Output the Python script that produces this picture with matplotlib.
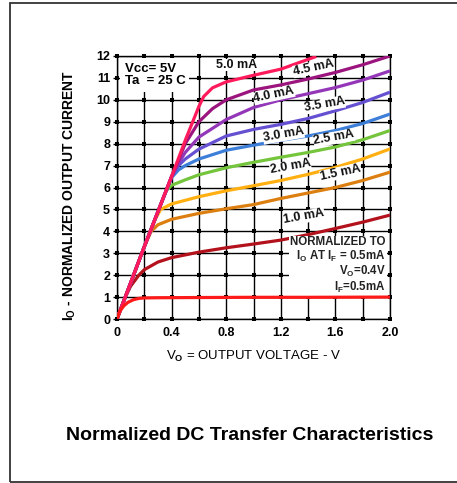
import matplotlib
matplotlib.use('Agg')
import matplotlib.pyplot as plt
import numpy as np
from matplotlib.patches import Rectangle

plt.rcParams['font.family'] = 'Liberation Sans'
plt.rcParams['font.weight'] = 'bold'
plt.rcParams['mathtext.fontset'] = 'custom'
plt.rcParams['mathtext.rm'] = 'Liberation Sans:bold'
plt.rcParams['mathtext.it'] = 'Liberation Sans:bold'
plt.rcParams['mathtext.default'] = 'rm'

# forward current curves: output voltage (V) -> normalized output current
if_labels = ['0.5 mA', '1.0 mA', '1.5 mA', '2.0 mA', '2.5 mA',
             '3.0 mA', '3.5 mA', '4.0 mA', '4.5 mA', '5.0 mA']
curve_colors = ['#ff1a1a', '#b3121c', '#dc7f10', '#ffb010', '#74c43c',
                '#3d7fd8', '#6650d2', '#9436b8', '#9c157e', '#ff1a5c']

x05 = [0, 0.02, 0.05, 0.08, 0.12, 0.16, 0.2, 0.3, 0.6, 1.0, 1.4, 2.0]
y05 = [0, 0.35, 0.6, 0.76, 0.88, 0.94, 0.96, 0.97, 0.98, 0.99, 0.99, 1.0]
x10 = [0, 0.05, 0.1, 0.16, 0.2, 0.3, 0.4, 0.6, 0.8, 1.0, 1.2, 1.4, 1.6, 1.8, 2.0]
y10 = [0, 0.85, 1.5, 2.0, 2.25, 2.6, 2.8, 3.05, 3.25, 3.42, 3.6, 3.85, 4.13, 4.42, 4.74]
x15 = [0, 0.1, 0.2, 0.25, 0.3, 0.4, 0.6, 0.8, 1.0, 1.2, 1.4, 1.6, 1.8, 2.0]
y15 = [0, 1.65, 3.3, 4.0, 4.3, 4.55, 4.82, 5.03, 5.22, 5.5, 5.75, 6.0, 6.32, 6.7]
x20 = [0, 0.1, 0.2, 0.28, 0.32, 0.4, 0.6, 0.8, 1.0, 1.2, 1.4, 1.6, 1.8, 2.0]
y20 = [0, 1.65, 3.3, 4.55, 5.0, 5.25, 5.58, 5.85, 6.08, 6.32, 6.6, 6.92, 7.3, 7.76]
x25 = [0, 0.1, 0.2, 0.3, 0.36, 0.4, 0.5, 0.6, 0.8, 1.0, 1.2, 1.4, 1.6, 1.8, 2.0]
y25 = [0, 1.65, 3.3, 4.9, 5.85, 6.1, 6.35, 6.58, 6.9, 7.15, 7.38, 7.6, 7.85, 8.18, 8.6]
x30 = [0, 0.1, 0.2, 0.3, 0.4, 0.45, 0.5, 0.6, 0.8, 1.0, 1.2, 1.4, 1.6, 1.8, 2.0]
y30 = [0, 1.65, 3.3, 4.9, 6.45, 6.8, 7.0, 7.3, 7.7, 7.93, 8.15, 8.35, 8.6, 8.92, 9.35]
x35 = [0, 0.1, 0.2, 0.3, 0.4, 0.45, 0.5, 0.6, 0.8, 1.0, 1.2, 1.4, 1.6, 1.8, 2.0]
y35 = [0, 1.65, 3.3, 4.9, 6.5, 7.0, 7.3, 7.75, 8.35, 8.65, 8.88, 9.15, 9.5, 9.88, 10.35]
x40 = [0, 0.1, 0.2, 0.3, 0.4, 0.45, 0.5, 0.6, 0.8, 1.0, 1.2, 1.4, 1.6, 1.8, 2.0]
y40 = [0, 1.65, 3.3, 4.9, 6.5, 7.1, 7.6, 8.3, 9.1, 9.65, 10.0, 10.28, 10.56, 10.9, 11.32]
x45 = [0, 0.1, 0.2, 0.3, 0.4, 0.45, 0.5, 0.6, 0.7, 0.8, 1.0, 1.2, 1.4, 1.6, 1.8, 2.0]
y45 = [0, 1.65, 3.3, 4.9, 6.5, 7.25, 8.0, 9.0, 9.6, 10.0, 10.45, 10.68, 10.95, 11.25, 11.6, 12.0]
x50 = [0, 0.1, 0.2, 0.3, 0.4, 0.5, 0.6, 0.635, 0.7, 0.8, 1.0, 1.2, 1.46]
y50 = [0, 1.65, 3.3, 4.9, 6.5, 8.15, 9.7, 10.15, 10.55, 10.82, 11.12, 11.4, 11.98]

curves_x = [x05, x10, x15, x20, x25, x30, x35, x40, x45, x50]
curves_y = [y05, y10, y15, y20, y25, y30, y35, y40, y45, y50]

# curve labels: (text, x, y, angle)
label_pos = [('1.0 mA', 1.37, 4.66, 10), ('1.5 mA', 1.64, 6.67, 12),
             ('2.0 mA', 1.27, 6.94, 10), ('2.5 mA', 1.59, 8.26, 10),
             ('3.0 mA', 1.22, 8.4, 10), ('3.5 mA', 1.52, 9.77, 10),
             ('4.0 mA', 1.15, 10.23, 12), ('4.5 mA', 1.44, 11.46, 12),
             ('5.0 mA', 0.875, 11.6, 0)]

fig = plt.figure(figsize=(4.57, 4.83), dpi=100)
fig.patches.append(Rectangle((10/457, 1/483), 1.0, 479/483, transform=fig.transFigure,
                             fill=False, edgecolor='#333333', linewidth=1.3))

ax = fig.add_axes([117/457, 1-319/483, 273/457, 263/483])
ax.set_xlim(0, 2.0)
ax.set_ylim(0, 12)

# grid
gx = np.arange(0, 2.01, 0.2)
gy = np.arange(0, 13, 1)
for v in gx:
    ax.axvline(v, color='black', lw=1.0, zorder=1)
for v in gy:
    ax.axhline(v, color='black', lw=1.0, zorder=1)
GX, GY = np.meshgrid(gx, gy)
ax.scatter(GX.ravel(), GY.ravel(), marker='s', s=6, color='black', zorder=2,
           clip_on=False, linewidths=0)

for i, (cx, cy, c) in enumerate(zip(curves_x, curves_y, curve_colors)):
    ax.plot(cx, cy, color=c, lw=2.3, zorder=7 if i == 0 else 4, solid_capstyle='butt')

for txt, lx, ly, ang in label_pos:
    ax.text(lx, ly, txt, fontsize=9, rotation=ang, ha='center', va='center',
            color='#111111', zorder=6,
            bbox=dict(facecolor='white', edgecolor='none', pad=0.2))

ax.text(0.055, 11.7, 'Vcc= 5V\nTa  = 25 C', fontsize=9.5, ha='left', va='top',
        linespacing=1.1, zorder=6,
        bbox=dict(facecolor='white', edgecolor='none', pad=3))

ax.text(1.97, 3.78, 'NORMALIZED TO\nI$_O$ AT I$_F$ = 0.5mA\nV$_O$=0.4V\nI$_F$=0.5mA',
        fontsize=8.3, ha='right', va='top', multialignment='right', linespacing=1.05,
        color='#222222', zorder=6,
        bbox=dict(facecolor='white', edgecolor='none', pad=1))

ax.set_xticks([0, 0.4, 0.8, 1.2, 1.6, 2.0])
ax.set_xticklabels(['0', '0.4', '0.8', '1.2', '1.6', '2.0'])
ax.set_yticks(range(0, 13))
ax.tick_params(axis='both', labelsize=9, width=1, color='black')
ax.tick_params(axis='y', length=3, pad=2)
ax.tick_params(axis='x', length=0, pad=6)
for s in ax.spines.values():
    s.set_linewidth(1.0)

ax.set_xlabel('V$_O$ = OUTPUT VOLTAGE - V', fontsize=9.5, labelpad=7)
fig.text(70/457, 1-195/483, 'I$_O$ - NORMALIZED OUTPUT CURRENT', fontsize=10,
         rotation=90, ha='center', va='center')

fig.text(250/457, 1-436/483, 'Normalized DC Transfer Characteristics', fontsize=14,
         ha='center', va='center')

fig.savefig('out.png', dpi=100)
